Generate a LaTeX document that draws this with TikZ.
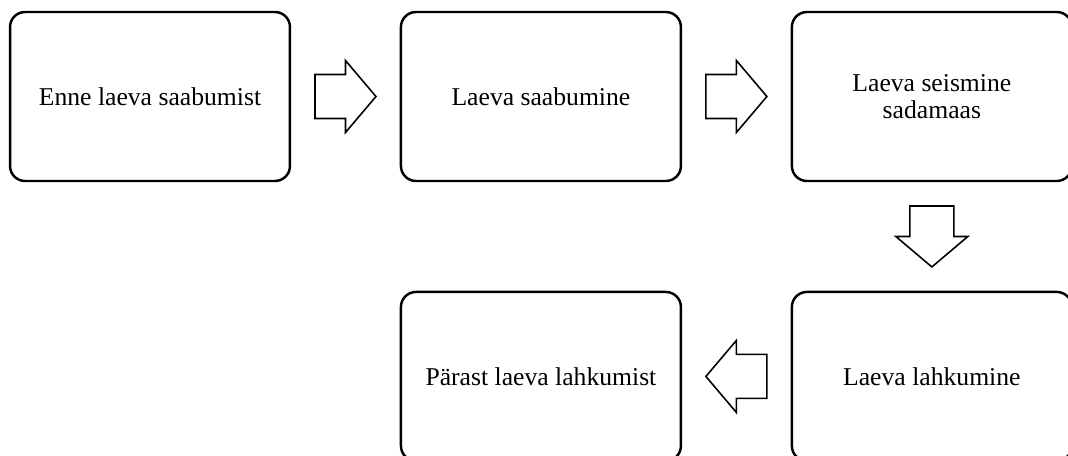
\documentclass[tikz,border=0pt]{standalone}
\usepackage{fontspec}
\setmainfont{Liberation Serif}
\usetikzlibrary{positioning,calc}

\begin{document}
\begin{tikzpicture}[
    x = 0.02cm, y = 0.02cm, % one unit is one pixel of the layout
    node distance = 2.22cm, % gap between the boxes
  ]

  \tikzset{stage/.style={
      draw = black,
      line width = 1.4pt,
      outer sep = 0pt,
      rounded corners = 0.3cm,
      minimum width = 5.6cm,
      minimum height = 3.38cm,
      align = center,
      font = \fontsize{14.6}{15.4}\selectfont
    },
    pics/blockarrow/.style={code={
      \draw[line width = 0.9pt, line join = miter, fill = white]
        (-30.5,-22) -- (0,-22) -- (0,-36) -- (30.5,0) -- (0,36) -- (0,22) -- (-30.5,22) -- cycle;
    }}
  }

  \fill[white] (0,0) rectangle (1068,-456);
  \useasboundingbox (0,0) rectangle (1068,-456);
  \clip (0,0) rectangle (1068,-456); % the boxes on the right run off the page

  \node[stage] (before) at (150,-96.5) {Enne laeva saabumist};
  \node[stage] (arrival) [right=of before] {Laeva saabumine};
  \node[stage] (stay) [right=of arrival] {Laeva seismine\\sadamaas};
  \node[stage] (departure) [below=of stay] {Laeva lahkumine};
  \node[stage] (after) [left=of departure] {Pärast laeva lahkumist};

  \pic at ($(before.east)!0.5!(arrival.west)$) {blockarrow};
  \pic at ($(arrival.east)!0.5!(stay.west)$) {blockarrow};
  \pic[rotate=-90] at ($(stay.south)!0.5!(departure.north)$) {blockarrow};
  \pic[rotate=180] at ($(departure.west)!0.5!(after.east)$) {blockarrow};
\end{tikzpicture}
\end{document}
